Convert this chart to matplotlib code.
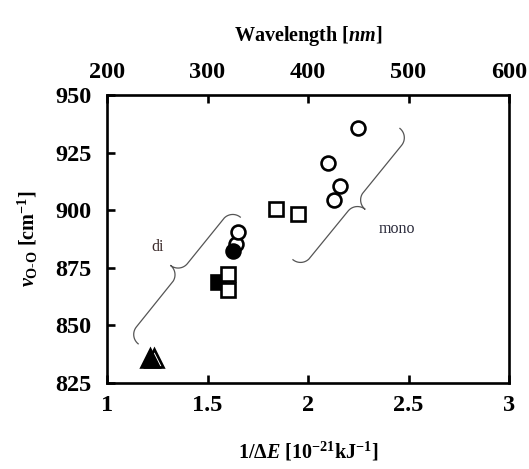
import numpy as np
import matplotlib
matplotlib.use("Agg")
import matplotlib.pyplot as plt

plt.rcParams['font.family'] = ['Liberation Serif', 'DejaVu Serif']
plt.rcParams['font.weight'] = 'bold'
plt.rcParams['axes.labelweight'] = 'bold'
plt.rcParams['mathtext.fontset'] = 'custom'
plt.rcParams['mathtext.rm'] = 'Liberation Serif:bold'
plt.rcParams['mathtext.it'] = 'Liberation Serif:italic:bold'
plt.rcParams['mathtext.bf'] = 'Liberation Serif:bold'
plt.rcParams['mathtext.bfit'] = 'Liberation Serif:italic:bold'

# ── data ───────────────────────────────────────────────────────────────
open_circle_x = [2.25, 2.10, 2.16, 2.13, 1.64, 1.65]
open_circle_y = [935.5, 920.5, 910.5, 904.5, 885.5, 890.5]
filled_circle_x = [1.625]
filled_circle_y = [882.5]
open_square_x = [1.84, 1.95, 1.60, 1.60]
open_square_y = [900.5, 898.5, 872.5, 865.5]
filled_square_x = [1.55]
filled_square_y = [869.0]
open_tri_x = [1.235]
open_tri_y = [836.0]
filled_tri_x = [1.215]
filled_tri_y = [836.0]

x_ticks = [1, 1.5, 2, 2.5, 3]
x_tick_labels = ['1', '1.5', '2', '2.5', '3']
y_ticks = [825, 850, 875, 900, 925, 950]
wl_ticks = [200, 300, 400, 500, 600]

# brace end points (data coords)
brace_di = ((1.155, 842.0), (1.663, 897.0))
brace_mono = ((2.457, 935.5), (1.925, 878.5))

fig = plt.figure(figsize=(5.29, 4.69), dpi=100)
ax = fig.add_axes([0.2023, 0.1834, 0.760, 0.614])
ax.set_xlim(1, 3)
ax.set_ylim(825, 950)

mk = dict(linestyle='none', markeredgecolor='black', markeredgewidth=1.9)
ax.plot(open_tri_x, open_tri_y, marker='^', markersize=13.5, markerfacecolor='white', **mk)
ax.plot(filled_tri_x, filled_tri_y, marker='^', markersize=13.5, markerfacecolor='black', **mk)
ax.plot(filled_square_x, filled_square_y, marker='s', markersize=10, markerfacecolor='black', **mk)
ax.plot(open_square_x, open_square_y, marker='s', markersize=10, markerfacecolor='white', **mk)
ax.plot(open_circle_x[:5], open_circle_y[:5], marker='o', markersize=10, markerfacecolor='white', **mk)
ax.plot(filled_circle_x, filled_circle_y, marker='o', markersize=10, markerfacecolor='black', **mk)
ax.plot(open_circle_x[5:], open_circle_y[5:], marker='o', markersize=10, markerfacecolor='white', **mk)


def brace(ax, p0, p1, depth=24, **kw):
    # curly brace of quarter arcs, built in display pixels, mapped back to data
    a = ax.transData.transform(p0)
    b = ax.transData.transform(p1)
    L = np.hypot(*(b - a))
    u = (b - a) / L
    n = np.array([-u[1], u[0]])
    r = depth / 2
    t = np.linspace(0, np.pi / 2, 40)
    s1 = r - r * np.cos(t)
    h1 = r * np.sin(t)
    s2 = L / 2 - r + r * np.sin(t)
    h2 = 2 * r - r * np.cos(t)
    s = np.concatenate([s1, s2])
    h = np.concatenate([h1, h2])
    s = np.concatenate([s, L - s[::-1]])
    h = np.concatenate([h, h[::-1]])
    pts = a + np.outer(s, u) + np.outer(h, n)
    d = ax.transData.inverted().transform(pts)
    ax.plot(d[:, 0], d[:, 1], **kw)


brace(ax, brace_di[0], brace_di[1], depth=24, color='#555555', lw=0.9)
brace(ax, brace_mono[0], brace_mono[1], depth=24, color='#555555', lw=0.9)
ax.text(1.254, 884, 'di', fontsize=11.5, fontweight='normal', color='#3a2a2a',
        ha='center', va='center')
ax.text(2.44, 891.8, 'mono', fontsize=11.5, fontweight='normal', color='#2a2a3a',
        ha='center', va='center')

for sp in ax.spines.values():
    sp.set_linewidth(1.9)

ax.set_xticks(x_ticks)
ax.set_xticklabels(x_tick_labels)
ax.set_yticks(y_ticks)
ax.tick_params(axis='both', direction='in', length=6, width=1.9, labelsize=17.5)
ax.tick_params(axis='x', pad=9)
ax.tick_params(axis='y', pad=11)

sec = ax.secondary_xaxis('top', functions=(lambda x: 200 * x, lambda w: w / 200))
sec.set_xticks(wl_ticks)
sec.tick_params(direction='in', length=6, width=1.9, labelsize=17.5, pad=9)
sec.set_xlabel(r'Wavelength [$\mathit{nm}$]', fontsize=14.5, labelpad=15)

ax.set_xlabel(r'1/$\Delta\mathit{E}$ [10$^{-21}$kJ$^{-1}$]', fontsize=14.5, labelpad=17)
ax.set_ylabel(r'$\mathit{v}_{\mathrm{O\text{-}O}}$ [cm$^{-1}$]', fontsize=14.5, labelpad=11)

fig.savefig('out.png', dpi=100)
